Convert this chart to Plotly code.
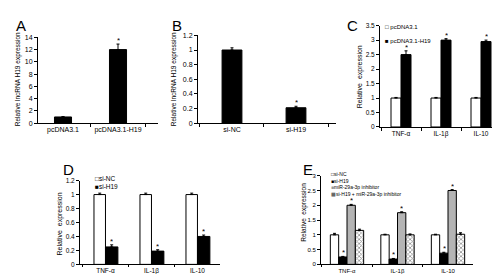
import plotly.graph_objects as go

# ---------------- data ----------------
a_cats = ["pcDNA3.1", "pcDNA3.1-H19"]
a_vals = [1.0, 12.0]
a_err = [0.05, 0.9]

b_cats = ["si-NC", "si-H19"]
b_vals = [1.0, 0.21]
b_err = [0.03, 0.02]

cyto = ["TNF-α", "IL-1β", "IL-10"]

c_ctrl = [1.0, 1.0, 1.0]
c_ctrl_err = [0.02, 0.02, 0.02]
c_h19 = [2.5, 3.0, 2.95]
c_h19_err = [0.13, 0.05, 0.05]

d_nc = [1.0, 1.0, 1.0]
d_nc_err = [0.02, 0.02, 0.02]
d_si = [0.25, 0.19, 0.40]
d_si_err = [0.03, 0.02, 0.02]

e_nc = [1.0, 1.0, 1.0]
e_nc_err = [0.05, 0.02, 0.02]
e_si = [0.25, 0.18, 0.38]
e_si_err = [0.02, 0.02, 0.03]
e_inh = [2.0, 1.75, 2.5]
e_inh_err = [0.03, 0.03, 0.03]
e_both = [1.15, 1.0, 1.02]
e_both_err = [0.04, 0.03, 0.05]

legend_c = ["pcDNA3.1", "pcDNA3.1-H19"]
legend_d = ["si-NC", "si-H19"]
legend_e = ["si-NC", "si-H19", "miR-29a-3p inhibitor", "si-H19 + miR-29a-3p inhibitor"]

FONT = "Arial, Liberation Sans, sans-serif"
W, H = 500, 274


def px(x):
    return x / W


def py(y):
    return 1 - y / H


fig = go.Figure()


def bar(xa, ya, cats, vals, err, color, width, offset=None, pattern=None):
    kw = dict(
        x=cats, y=vals, xaxis=xa, yaxis=ya, width=width,
        marker=dict(color=color, line=dict(color="black", width=1)),
        error_y=dict(type="data", array=err, arrayminus=[0] * len(err),
                     symmetric=False, color="black", thickness=1, width=1.5),
        showlegend=False, hoverinfo="skip",
    )
    if offset is not None:
        kw["offset"] = offset
    if pattern is not None:
        kw["marker"]["pattern"] = pattern
    fig.add_trace(go.Bar(**kw))


# Panel A
bar("x", "y", a_cats, a_vals, a_err, "black", 0.31)
# Panel B
bar("x2", "y2", b_cats, b_vals, b_err, "black", 0.31)
# Panel C
bar("x3", "y3", cyto, c_ctrl, c_ctrl_err, "white", 0.25, -0.25)
bar("x3", "y3", cyto, c_h19, c_h19_err, "black", 0.25, 0.0)
# Panel D
bar("x4", "y4", cyto, d_nc, d_nc_err, "white", 0.25, -0.25)
bar("x4", "y4", cyto, d_si, d_si_err, "black", 0.27, 0.0)
# Panel E
bar("x5", "y5", cyto, e_nc, e_nc_err, "white", 0.165, -0.33)
bar("x5", "y5", cyto, e_si, e_si_err, "black", 0.165, -0.165)
bar("x5", "y5", cyto, e_inh, e_inh_err, "#b4b4b4", 0.165, 0.0)
bar("x5", "y5", cyto, e_both, e_both_err, "white", 0.165, 0.165,
    pattern=dict(shape="x", fgcolor="#222222", bgcolor="white", size=3, solidity=0.45))


def xax(domain, rng, anchor, fsize=7, ticklen=3):
    return dict(domain=domain, range=rng, anchor=anchor, type="category",
                showline=True, linecolor="black", linewidth=1,
                ticks="outside", ticklen=ticklen, tickcolor="black", tickson="boundaries",
                tickangle=0, showgrid=False, zeroline=False,
                tickfont=dict(family=FONT, size=fsize, color="black"), fixedrange=True)


def yax(domain, rng, dtick, anchor, fsize=7):
    return dict(domain=domain, range=rng, dtick=dtick, anchor=anchor,
                showline=True, linecolor="black", linewidth=1,
                ticks="outside", ticklen=3, tickcolor="black",
                showgrid=False, zeroline=False,
                tickfont=dict(family=FONT, size=fsize, color="black"), fixedrange=True)


layout = dict(
    width=W, height=H, autosize=False,
    margin=dict(l=0, r=0, t=0, b=0),
    paper_bgcolor="white", plot_bgcolor="white",
    barmode="overlay", showlegend=False,
    font=dict(family=FONT, color="black"),
    xaxis=xax([px(30), px(150)], [-0.4545, 1.727], "y"),
    yaxis=yax([py(114), py(26)], [0, 14], 2, "x"),
    xaxis2=xax([px(190), px(328)], [-0.531, 1.625], "y2"),
    yaxis2=yax([py(114), py(24)], [0, 1.2], 0.2, "x2"),
    xaxis3=xax([px(372), px(490)], [-0.525, 2.425], "y3", 6.5),
    yaxis3=yax([py(118), py(14)], [0, 3.5], 0.5, "x3", 6.5),
    xaxis4=xax([px(72), px(212)], [-0.554, 2.49], "y4", 6.5, 2),
    yaxis4=yax([py(259), py(173)], [0, 1.2], 0.2, "x4", 6.5),
    xaxis5=xax([px(313), px(465)], [-0.515, 2.495], "y5", 6, 2),
    yaxis5=yax([py(259), py(168)], [0, 3], 0.5, "x5", 6),
)
fig.update_layout(**layout)

ann = []
# panel letters
for letter, x, y in [("A", 6, 3), ("B", 162, 3), ("C", 337, 3), ("D", 53, 151), ("E", 293, 151)]:
    ann.append(dict(text=letter, x=px(x), y=py(y), xref="paper", yref="paper",
                    xanchor="left", yanchor="top", showarrow=False,
                    font=dict(family=FONT, size=15, color="black")))

# y-axis titles
for txt, x, y, fs in [("Relative lncRNA H19 expression", 10, 69, 6.5),
                      ("Relative lncRNA H19 expression", 166, 69, 6.5),
                      ("Relative  expression", 352, 67, 7),
                      ("Relative  expression", 52, 218, 7),
                      ("Relative  expression", 296, 206, 6.5)]:
    ann.append(dict(text=txt, x=px(x), y=py(y), xref="paper", yref="paper",
                    textangle=-90, showarrow=False, xanchor="center", yanchor="middle",
                    font=dict(family=FONT, size=fs, color="black")))


# significance asterisks (box height limited to the glyph itself)
def stars(xref, yref, cats, vals, errs, shift=0.0):
    for c, v, e in zip(cats, vals, errs):
        ann.append(dict(text="*", x=c, y=v + e, xref=xref, yref=yref, showarrow=False,
                        xanchor="center", yanchor="bottom", yshift=2, xshift=shift,
                        height=5, valign="top", borderpad=0,
                        font=dict(family=FONT, size=8, color="black")))


stars("x", "y", [a_cats[1]], [a_vals[1]], [a_err[1]])
stars("x2", "y2", [b_cats[1]], [b_vals[1]], [b_err[1]])
stars("x3", "y3", cyto, c_h19, c_h19_err, 5)
stars("x4", "y4", cyto, d_si, d_si_err, 6)
stars("x5", "y5", cyto, e_si, e_si_err, -4)
stars("x5", "y5", cyto, e_inh, e_inh_err, 4)


# legends (as text with square glyphs)
def legend_block(items, x, y_top, fs):
    lines = [f"<span style='color:{col}'>{sym}</span>{label}" for sym, col, label in items]
    ann.append(dict(text="<br>".join(lines), align="left",
                    x=px(x), y=py(y_top), xref="paper", yref="paper", showarrow=False,
                    xanchor="left", yanchor="top", borderpad=0,
                    font=dict(family=FONT, size=fs, color="black")))


legend_block([("□", "black", " " + legend_c[0])], 376, 11, 6)
legend_block([("■", "black", " " + legend_c[1])], 376, 26, 6)
legend_block([("□", "black", legend_d[0]), ("■", "black", legend_d[1])], 86, 166, 6.5)
legend_block([("□", "black", legend_e[0]), ("■", "black", legend_e[1]),
              ("■", "#999999", legend_e[2]), ("▩", "#333333", legend_e[3])],
             322, 162, 5)

fig.update_layout(annotations=ann)
fig.write_html("out.html")
